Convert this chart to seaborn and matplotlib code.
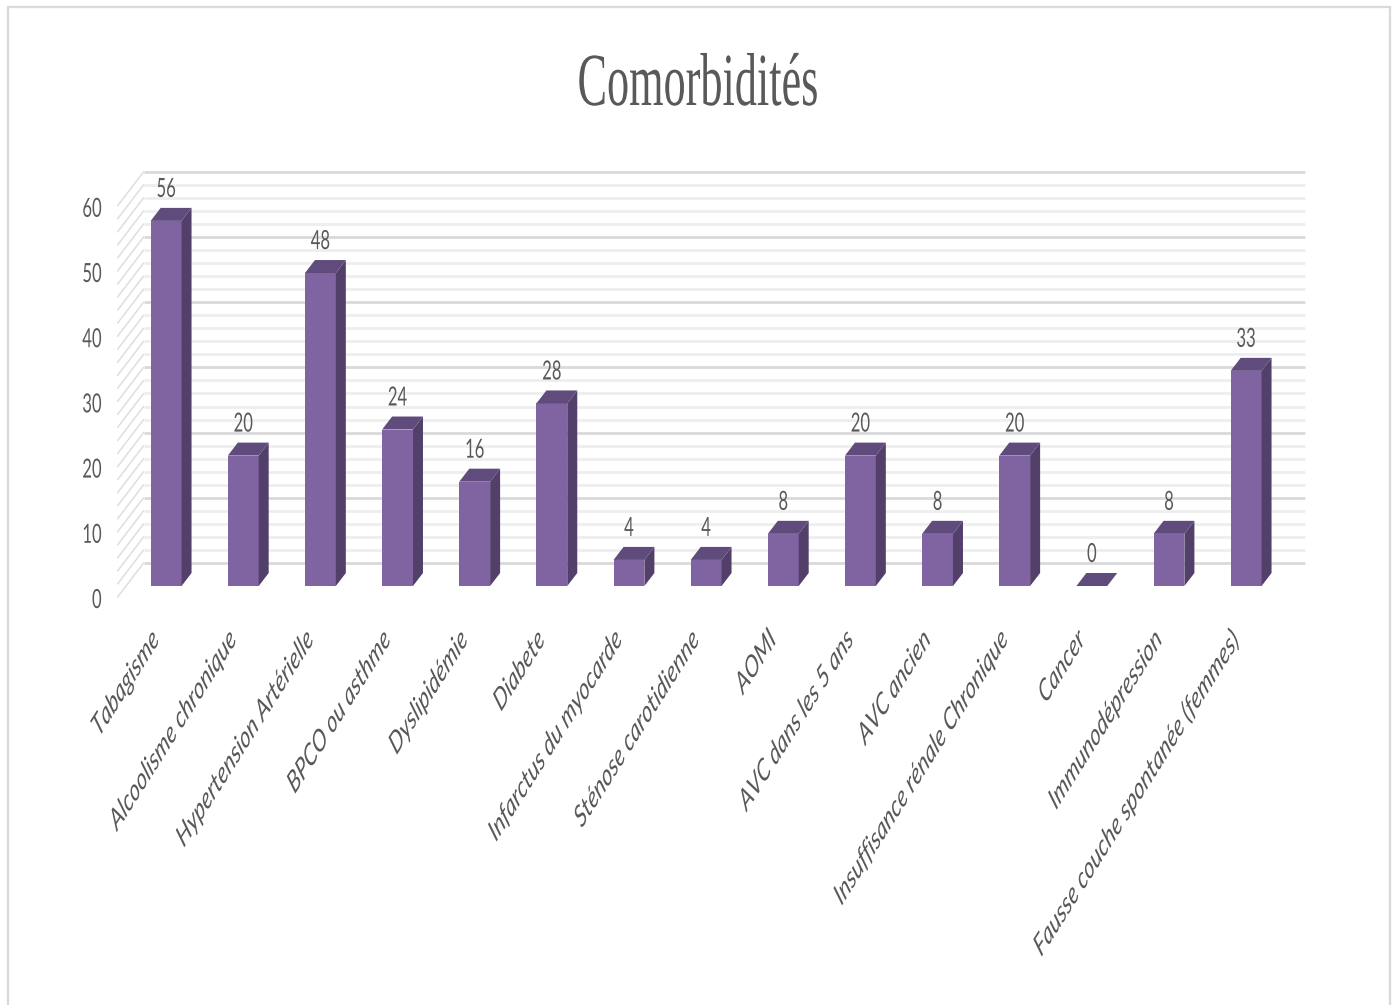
import numpy as np
import pandas as pd
import matplotlib
matplotlib.use("Agg")
import matplotlib.pyplot as plt
import seaborn as sns
from matplotlib.patches import Polygon, Rectangle
from matplotlib.patheffects import AbstractPathEffect
from matplotlib.transforms import Affine2D, offset_copy

# ---- data ---------------------------------------------------------------
categories = [
    "Tabagisme", "Alcoolisme chronique", "Hypertension Artérielle",
    "BPCO ou asthme", "Dyslipidémie", "Diabete", "Infarctus du myocarde",
    "Sténose carotidienne", "AOMI", "AVC dans les 5 ans", "AVC ancien",
    "Insuffisance rénale Chronique", "Cancer", "Immunodépression",
    "Fausse couche spontanée (femmes)",
]
counts = [56, 20, 48, 24, 16, 28, 4, 4, 8, 20, 8, 20, 0, 8, 33]
y_ticks = [0, 10, 20, 30, 40, 50, 60]
title = "Comorbidités"

# ---- style --------------------------------------------------------------
FRONT = "#8064A2"
SIDE = "#523F6A"
TOP = "#604B7D"
TEXT = "#595959"
GRID_MAJOR = "#d9d9d9"
GRID_MINOR = "#eeeeee"
WALL_LINE = "#dedede"
W, H = 1397, 1005


class Squash(AbstractPathEffect):
    """Narrow a text horizontally around its anchor point."""

    def __init__(self, text, factor):
        super().__init__()
        self.text = text
        self.factor = factor

    def draw_path(self, renderer, gc, tpath, affine, rgbFace=None):
        x0 = self.text.get_transform().transform(self.text.get_position())[0]
        aff = affine + Affine2D().translate(-x0, 0).scale(self.factor, 1).translate(x0, 0)
        renderer.draw_path(gc, tpath, aff, rgbFace)


def squashed(t, factor=0.63):
    t.set_path_effects([Squash(t, factor)])
    return t


sns.set_theme(style="white")
plt.rcParams["font.family"] = ["Lato", "DejaVu Sans"]

fig = plt.figure(figsize=(W / 100, H / 100), dpi=100)
fig.patch.set_facecolor("white")

# chart frame
fig.add_artist(Rectangle((7.5 / W, -0.02), (1390 - 7.5) / W, 1 - 7.5 / H + 0.02,
                         transform=fig.transFigure, fill=False,
                         edgecolor="#d9d9d9", lw=1.6))

# plot area (front of the columns)
left_px, right_px, base_px, top_px = 126.0, 1287.0, 586.0, 194.8
ax = fig.add_axes([left_px / W, 1 - base_px / H,
                   (right_px - left_px) / W, (base_px - top_px) / H])

df = pd.DataFrame({"cat": categories, "n": counts})
sns.barplot(data=df, x="cat", y="n", order=categories, color=FRONT,
            saturation=1, width=0.4, linewidth=0, ax=ax, zorder=3)
ax.set_xlim(-0.52, len(categories) - 1 + 0.53)
ax.set_ylim(0, 60)
ax.set_axis_off()

# pixel -> data conversion for the depth offsets
sx = ax.transData.transform((1, 0))[0] - ax.transData.transform((0, 0))[0]
sy = ax.transData.transform((0, 1))[1] - ax.transData.transform((0, 0))[1]


def d(dx, dy):
    return dx / sx, dy / sy


bar_dx, bar_dy = d(10, 13)
front_dx, front_dy = d(-8.4, -11)
back_dx, back_dy = d(17.6, 23)
xl0, xl1 = ax.get_xlim()

# back wall and left wall grid
for v in range(0, 61, 2):
    major = v % 10 == 0
    ax.plot([xl0 + back_dx, xl1 + back_dx], [v + back_dy, v + back_dy],
            color=GRID_MAJOR if major else GRID_MINOR, lw=2.0, zorder=1,
            clip_on=False, solid_capstyle="butt")
    ax.plot([xl0 + front_dx, xl0 + back_dx], [v + front_dy, v + back_dy],
            color=WALL_LINE, lw=1.1, zorder=1, clip_on=False)

# y tick labels along the front edge of the left wall
tick_tr = offset_copy(ax.transData, fig=fig, x=-8.4 - 16, y=-22, units="dots")
for v in y_ticks:
    t = ax.text(xl0, v, str(v), transform=tick_tr, ha="right", va="baseline",
                fontsize=19, color=TEXT)
    squashed(t)

# 3D faces and value labels
value_tr = offset_copy(ax.transData, fig=fig, x=0, y=11, units="dots")
for p, v in zip(ax.patches, counts):
    x0, w, h = p.get_x(), p.get_width(), p.get_height()
    p.set_clip_on(False)
    side = Polygon([(x0 + w, 0), (x0 + w, h), (x0 + w + bar_dx, h + bar_dy),
                    (x0 + w + bar_dx, bar_dy)], closed=True, facecolor=SIDE,
                   edgecolor="none", zorder=3, clip_on=False)
    top = Polygon([(x0, h), (x0 + w, h), (x0 + w + bar_dx, h + bar_dy),
                   (x0 + bar_dx, h + bar_dy)], closed=True, facecolor=TOP,
                  edgecolor="none", zorder=3, clip_on=False)
    ax.add_patch(side)
    ax.add_patch(top)
    t = ax.text(x0 + w / 2, h + bar_dy, str(v), transform=value_tr,
                ha="center", va="baseline", fontsize=19, color=TEXT,
                clip_on=False)
    squashed(t)

# category labels
cat_tr = offset_copy(ax.transData, fig=fig, x=-4, y=-39, units="dots")
for i, cat in enumerate(categories):
    t = ax.text(i, 0, cat, transform=cat_tr, ha="right", va="top",
                rotation=45, fontsize=22, style="italic", color=TEXT,
                clip_on=False)
    squashed(t)

# title
tt = fig.text(698 / W, 1 - 105 / H, title, ha="center", va="baseline",
              fontsize=54, family=["Liberation Serif", "DejaVu Serif"],
              color=TEXT)
squashed(tt, 0.59)

fig.savefig("out.png", dpi=100)
